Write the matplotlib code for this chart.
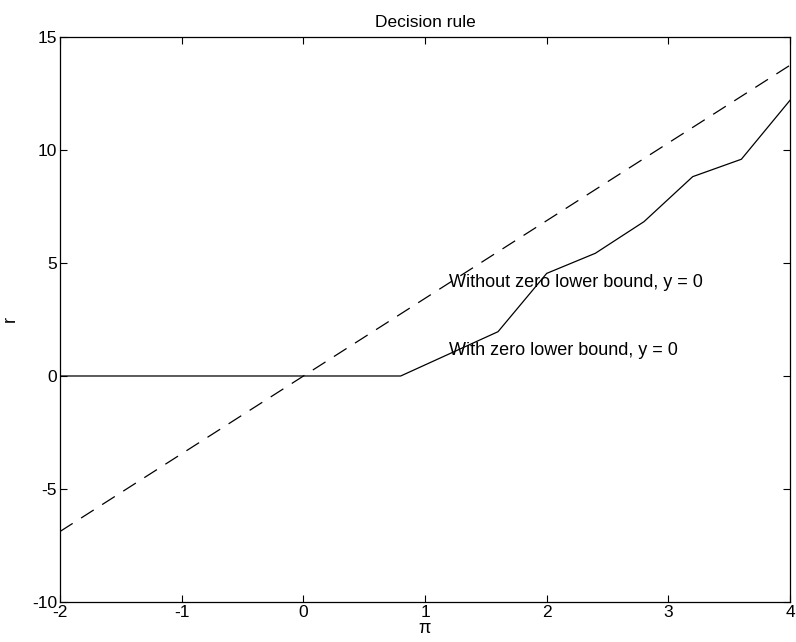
import numpy as np
import matplotlib
matplotlib.use('Agg')
import matplotlib.pyplot as plt

plt.rcParams['font.family'] = ['Liberation Sans', 'DejaVu Sans']
plt.rcParams['axes.unicode_minus'] = False

# decision rule with zero lower bound (kinks)
pi_zlb = [-2.0, 0.8, 1.2, 1.6, 2.0, 2.4, 2.8, 3.2, 3.6, 4.0]
r_zlb = [0.0, 0.0, 0.98, 1.96, 4.54, 5.43, 6.83, 8.82, 9.59, 12.2]

# linear rule without zero lower bound
pi_lin = [-2.0, 4.0]
r_lin = [-6.88, 13.75]

xticks = [-2, -1, 0, 1, 2, 3, 4]
yticks = [-10, -5, 0, 5, 10, 15]

fig = plt.figure(figsize=(7.96, 6.42), dpi=100)
ax = fig.add_axes([0.0754, 0.0623, 0.9171, 0.8801])

ax.plot(pi_zlb, r_zlb, color='black', linewidth=0.9)
ax.plot(pi_lin, r_lin, color='black', linewidth=0.9, linestyle=(0, (12, 8)))

ax.text(1.2, 4.15, 'Without zero lower bound, y = 0', fontsize=13,
        va='center', ha='left')
ax.text(1.2, 1.15, 'With zero lower bound, y = 0', fontsize=13,
        va='center', ha='left')

ax.set_xlim(-2, 4)
ax.set_ylim(-10, 15)
ax.set_xticks(xticks)
ax.set_yticks(yticks)
ax.tick_params(direction='in', length=5, width=0.8, labelsize=12.5,
               top=True, right=True, pad=2)
for s in ax.spines.values():
    s.set_linewidth(0.9)

ax.set_title('Decision rule', fontsize=12.5, pad=7)
ax.set_xlabel('π', fontsize=13, labelpad=0)
ax.set_ylabel('r', fontsize=13)
ax.yaxis.set_label_coords(-0.057, 0.5)

fig.savefig('out.png', dpi=100)
